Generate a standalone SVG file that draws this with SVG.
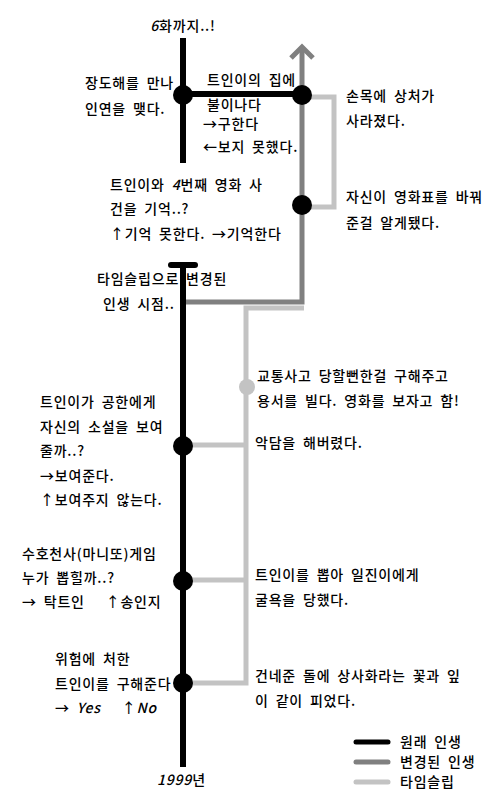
<svg xmlns="http://www.w3.org/2000/svg" width="500" height="800" viewBox="0 0 500 800">
<style>
text{font-family:"Noto Sans CJK KR","Noto Sans",sans-serif;font-size:14px;fill:#000;letter-spacing:0.8px;word-spacing:3px;font-weight:500}
.it{font-style:italic}
.blk{stroke:#000;stroke-width:6;fill:none}
.dg{stroke:#808080;stroke-width:5;fill:none}
.lg{stroke:#c3c3c3;stroke-width:5;fill:none}
</style>
<rect width="500" height="800" fill="#fff"/>
<g id="connectors">
<path class="lg" d="M302 97 H334 V207 H302"/>
<path class="lg" d="M304 308 H246 V683 H183"/>
<path class="lg" d="M183 445 H246"/>
<path class="lg" d="M183 580 H246"/>
<path class="dg" d="M302 48 V302 H185"/>
<path class="dg" d="M291 58 L302 47 L313 58"/>
<path class="blk" d="M183 38 V163"/>
<path class="blk" d="M183 94 H302"/>
<path class="blk" d="M183 265 V767"/>
<path class="blk" d="M171 265 H195" stroke-linecap="round"/>
</g>
<g id="n-top">
<text x="183" y="31" text-anchor="middle"><tspan class="it">6</tspan>화까지..!</text>
</g>
<g id="n-meet">
<circle cx="183" cy="95" r="10" fill="#000"/>
<text x="85" y="88">장도해를 만나</text>
<text x="85" y="114">인연을 맺다.</text>
</g>
<g id="n-fire">
<circle cx="302" cy="95" r="10" fill="#000"/>
<text x="207" y="85">트인이의 집에</text>
<text x="207" y="110">불이나다</text>
<text x="203" y="129">→구한다</text>
<text x="203" y="152">←보지 못했다.</text>
</g>
<g id="n-wrist">
<text x="346" y="101">손목에 상처가</text>
<text x="346" y="126">사라졌다.</text>
</g>
<g id="n-ticket">
<circle cx="302" cy="205" r="10" fill="#000"/>
<text x="346" y="202">자신이 영화표를 바꿔</text>
<text x="346" y="228">준걸 알게됐다.</text>
</g>
<g id="n-movie">
<text x="110" y="190">트인이와 <tspan class="it">4</tspan>번째 영화 사</text>
<text x="110" y="214">건을 기억..?</text>
<text x="110" y="239">↑기억 못한다. →기억한다</text>
</g>
<g id="n-changed">
<text x="97" y="284">타임슬립으로 변경된</text>
<text x="103" y="309">인생 시점..</text>
</g>
<g id="n-accident">
<circle cx="247" cy="387" r="8" fill="#c3c3c3"/>
<text x="257" y="381">교통사고 당할뻔한걸 구해주고</text>
<text x="257" y="406">용서를 빌다. 영화를 보자고 함!</text>
</g>
<g id="n-curse">
<text x="255" y="448">악담을 해버렸다.</text>
</g>
<g id="n-novel">
<circle cx="183" cy="446" r="10" fill="#000"/>
<text x="40" y="407">트인이가 공한에게</text>
<text x="40" y="432">자신의 소설을 보여</text>
<text x="40" y="456">줄까..?</text>
<text x="40" y="481">→보여준다.</text>
<text x="40" y="505">↑보여주지 않는다.</text>
</g>
<g id="n-manito">
<circle cx="183" cy="581" r="10" fill="#000"/>
<text x="22" y="559">수호천사(마니또)게임</text>
<text x="22" y="583">누가 뽑힐까..?</text>
<text x="22" y="607" xml:space="preserve">→ 탁트인   ↑송인지</text>
</g>
<g id="n-shame">
<text x="255" y="580">트인이를 뽑아 일진이에게</text>
<text x="255" y="605">굴욕을 당했다.</text>
</g>
<g id="n-save">
<circle cx="183" cy="683" r="10" fill="#000"/>
<text x="55" y="664">위험에 처한</text>
<text x="55" y="689">트인이를 구해준다</text>
<text x="55" y="713" xml:space="preserve">→ <tspan class="it">Yes</tspan>   ↑<tspan class="it">No</tspan></text>
</g>
<g id="n-flower">
<text x="255" y="681">건네준 돌에 상사화라는 꽃과 잎</text>
<text x="255" y="706">이 같이 피었다.</text>
</g>
<g id="n-1999">
<text x="157" y="785"><tspan class="it">1999</tspan>년</text>
</g>
<g id="legend">
<line x1="356" y1="742" x2="388" y2="742" stroke="#000" stroke-width="5" stroke-linecap="round"/>
<line x1="356" y1="762" x2="388" y2="762" stroke="#808080" stroke-width="5" stroke-linecap="round"/>
<line x1="356" y1="782" x2="388" y2="782" stroke="#c3c3c3" stroke-width="5" stroke-linecap="round"/>
<text x="400" y="747">원래 인생</text>
<text x="400" y="767">변경된 인생</text>
<text x="400" y="787">타임슬립</text>
</g>
</svg>
